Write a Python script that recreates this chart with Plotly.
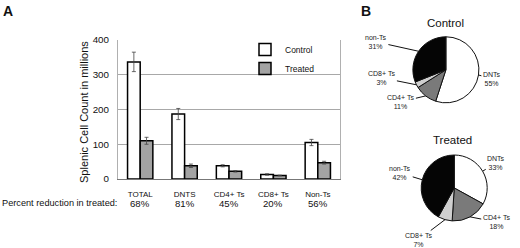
import math
import plotly.graph_objects as go

categories = ["TOTAL", "DNTS", "CD4+ Ts", "CD8+ Ts", "Non-Ts"]
control_vals = [337, 187, 38, 13, 105]
control_err = [28, 16, 3, 2, 9]
treated_vals = [110, 38, 22, 10, 47]
treated_err = [10, 5, 2, 1, 4]
pct_reduction = ["68%", "81%", "45%", "20%", "56%"]
y_ticks = [0, 100, 200, 300, 400]

pie_labels = ["DNTs", "CD4+ Ts", "CD8+ Ts", "non-Ts"]
control_pie = [55, 11, 3, 31]
treated_pie = [33, 18, 7, 42]
pie_colors = ["#ffffff", "#7a7a7a", "#cfcfcf", "#050505"]

# label placement (pixel offsets of label centre from pie centre) - layout only
ctrl_label_pos = [(46, 9), (-45, 32), (-64, 8), (-70, -28)]
trt_label_pos = [(42, -25), (42, 34), (-36, 52), (-54, -15)]

W, H = 520, 248
fig = go.Figure()

fig.add_trace(go.Bar(
    x=categories, y=control_vals, name="Control",
    marker=dict(color="white", line=dict(color="black", width=1.5)),
    error_y=dict(type="data", array=control_err, color="#444", thickness=0.8, width=2),
))
fig.add_trace(go.Bar(
    x=categories, y=treated_vals, name="Treated",
    marker=dict(color="#a3a3a3", line=dict(color="black", width=1.5)),
    error_y=dict(type="data", array=treated_err, color="#444", thickness=0.8, width=2),
))

# pie domains (paper)
ctrl_dom = dict(x=[0.794, 0.921], y=[0.585, 0.852])
trt_dom = dict(x=[0.810, 0.937], y=[0.109, 0.375])

for vals, dom in [(control_pie, ctrl_dom), (treated_pie, trt_dom)]:
    fig.add_trace(go.Pie(
        labels=pie_labels, values=vals, sort=False, direction="clockwise",
        rotation=0, domain=dom, textinfo="none", hoverinfo="label+percent",
        marker=dict(colors=pie_colors, line=dict(color="#111", width=1)),
        showlegend=False, automargin=False,
    ))

annotations = []


def pie_annots(vals, dom, label_pos):
    cx = (dom["x"][0] + dom["x"][1]) / 2 * W
    cy = (1 - (dom["y"][0] + dom["y"][1]) / 2) * H
    r = min((dom["x"][1] - dom["x"][0]) * W, (dom["y"][1] - dom["y"][0]) * H) / 2
    tot = sum(vals)
    cum = 0
    out = []
    for lab, v, (lx, ly) in zip(pie_labels, vals, label_pos):
        mid = (cum + v / 2) / tot * 2 * math.pi
        cum += v
        ex = cx + r * math.sin(mid)
        ey = cy - r * math.cos(mid)
        out.append(dict(
            x=ex / W, y=1 - ey / H, xref="paper", yref="paper",
            ax=cx + lx - ex, ay=cy + ly - ey,
            text=f"{lab}<br>{round(v / tot * 100)}%",
            showarrow=True, arrowhead=0, arrowwidth=1, arrowcolor="#111",
            font=dict(size=7, family="Arial", color="#222"),
        ))
    return out, cx


a1, ccx = pie_annots(control_pie, ctrl_dom, ctrl_label_pos)
a2, tcx = pie_annots(treated_pie, trt_dom, trt_label_pos)
annotations += a1 + a2

txt = dict(showarrow=False, xref="paper", yref="paper", xanchor="center", yanchor="middle")
annotations += [
    dict(x=ccx / W, y=1 - 23 / H, text="Control",
         font=dict(size=11.5, family="Arial", color="#111"), **txt),
    dict(x=tcx / W - 0.004, y=1 - 140 / H, text="Treated",
         font=dict(size=11.5, family="Arial", color="#111"), **txt),
    dict(x=8 / W, y=1 - 11 / H, text="<b>A</b>",
         font=dict(size=14, family="Arial", color="#111"), **txt),
    dict(x=366 / W, y=1 - 11 / H, text="<b>B</b>",
         font=dict(size=14, family="Arial", color="#111"), **txt),
    dict(x=84 / W, y=1 - 112 / H, text="Splenic Cell Count in millions", textangle=-90,
         font=dict(size=11, family="Arial", color="#111"), **txt),
]
annotations.append(dict(x=0, y=1 - 203 / H, xref="paper", yref="paper", xanchor="left",
                        yanchor="middle", text="Percent reduction in treated:", showarrow=False,
                        font=dict(size=9.2, family="Arial", color="#111")))
for c, p in zip(categories, pct_reduction):
    annotations.append(dict(x=c, y=1 - 203 / H, xref="x", yref="paper", text=p,
                            xanchor="center", yanchor="middle", showarrow=False,
                            font=dict(size=9.6, family="Arial", color="#111")))

fig.update_layout(
    width=W, height=H,
    margin=dict(l=0, r=0, t=0, b=0, autoexpand=False),
    paper_bgcolor="white", plot_bgcolor="white",
    barmode="group", bargap=0.43, bargroupgap=0,
    font=dict(family="Arial", color="#111"),
    xaxis=dict(domain=[118 / W, 340 / W], showgrid=False, showline=True,
               linecolor="#777", linewidth=1, ticks="", automargin=False,
               ticklabelstandoff=7,
               tickfont=dict(size=8, family="Arial", color="#111")),
    yaxis=dict(domain=[1 - 179 / H, 1 - 40 / H], range=[0, 400], tickvals=y_ticks,
               showgrid=True, gridcolor="#a8a8a8", gridwidth=1, automargin=False,
               showline=True, mirror=True, linecolor="#b0b0b0", linewidth=1,
               zeroline=False, ticks="", ticklabelstandoff=6,
               tickfont=dict(size=9.8, family="Arial", color="#111")),
    legend=dict(x=245 / W, y=1 - 35 / H, xanchor="left", yanchor="top",
                bgcolor="rgba(0,0,0,0)", font=dict(size=8.5, family="Arial", color="#111"),
                itemwidth=30, tracegroupgap=0),
    annotations=annotations,
)

fig.write_html("out.html", config={"displayModeBar": False},
               post_script="document.body.style.margin='0';document.body.style.overflow='hidden';")
